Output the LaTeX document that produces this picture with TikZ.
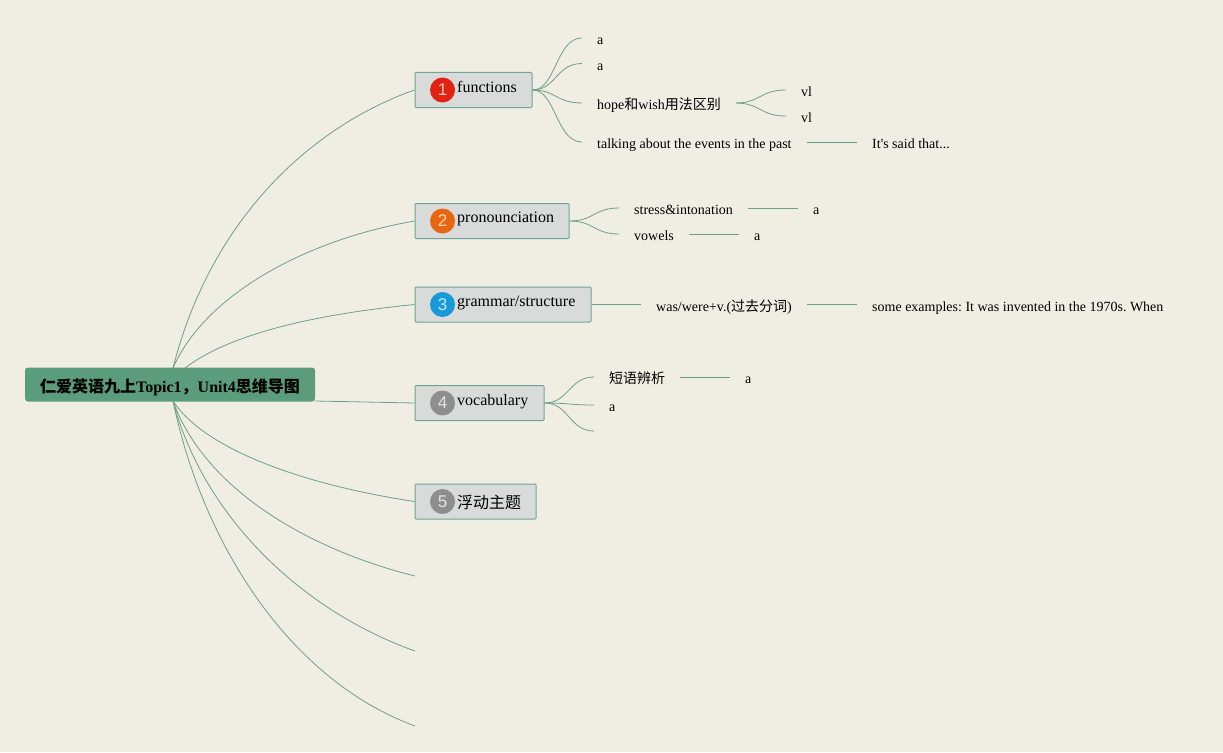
\documentclass[tikz,border=0pt]{standalone}
\usepackage{fontspec}
\setmainfont{Liberation Serif}[Ligatures=TeXOff]
\setsansfont{Liberation Sans}
\newfontfamily\cjk{Noto Sans CJK SC}
\frenchspacing
\definecolor{bgc}{HTML}{F0EDE3}
\definecolor{rootc}{HTML}{5A9C7B}
\definecolor{topicc}{HTML}{D9DADA}
\definecolor{borderc}{HTML}{6FA598}
\definecolor{linkc}{HTML}{6E9F8C}
\definecolor{redb}{HTML}{E22212}
\definecolor{orb}{HTML}{E8660F}
\definecolor{blb}{HTML}{189AD8}
\definecolor{grb}{HTML}{8E8E8E}
\tikzset{
 x=1pt,y=-1pt,
 link/.style={draw=linkc,line width=0.8pt},
 rootbox/.style={fill=rootc,draw=none,rounded corners=3pt,inner sep=0pt,minimum width=290pt,minimum height=34pt,font=\fontsize{16}{20}\selectfont\bfseries},
 topicbox/.style={fill=topicc,draw=borderc,line width=1pt,rounded corners=1pt,inner sep=0pt,minimum height=35pt},
 topictext/.style={anchor=base west,inner sep=0pt,font=\fontsize{16}{19}\selectfont},
 badge/.style={circle,inner sep=0pt,minimum size=25pt,text=white,text opacity=0.75,font=\sffamily\fontsize{17}{20}\selectfont},
 leaf/.style={anchor=base west,inner sep=0pt,font=\fontsize{14}{17}\selectfont},
 cjkleaf/.style={anchor=base west,inner sep=0pt,font=\fontsize{14}{17}\selectfont},
}
\begin{document}
\begin{tikzpicture}
\useasboundingbox[fill=bgc] (0,0) rectangle (1223,752);
% topics
\node[rootbox] (root) at (170,384.5) {\rule{0pt}{19pt}{\cjk\bfseries 仁爱英语九上{\rmfamily\bfseries Topic1}，{\rmfamily\bfseries Unit4}思维导图}};
\node[topicbox,minimum width=117pt] (t1) at (473.5,90) {};
\node[topicbox,minimum width=154pt] (t2) at (492,221) {};
\node[topicbox,minimum width=176pt] (t3) at (503,304.5) {};
\node[topicbox,minimum width=129pt] (t4) at (479.5,403) {};
\node[topicbox,minimum width=121pt] (t5) at (475.5,501.5) {};
\node[badge,fill=redb] (b1) at (442.5,90) {1};
\node[badge,fill=orb] (b2) at (442.5,221) {2};
\node[badge,fill=blb] (b3) at (442.5,304.5) {3};
\node[badge,fill=grb] (b4) at (442.5,403) {4};
\node[badge,fill=grb] (b5) at (442.5,501.5) {5};
\node[topictext] (n1) at (457,92.5) {functions};
\node[topictext] (n2) at (457,222) {pronounciation};
\node[topictext] (n3) at (457,306) {grammar/structure};
\node[topictext] (n4) at (457,405) {vocabulary};
\node[topictext] (n5) at (457,508) {\cjk 浮动主题};
% free ends
\coordinate (ra) at (173,368);
\coordinate (rb) at (185,368);
\coordinate (rc) at (173,401);
\coordinate (rd) at (315,401);
\coordinate (e6) at (415,576);
\coordinate (e7) at (415,651);
\coordinate (e8) at (415,726);
\draw[link] (ra) .. controls (212,215) and (315,125) .. (t1.west);
\draw[link] (ra) .. controls (205,295) and (305,240) .. (t2.west);
\draw[link] (rb) .. controls (235,330) and (330,313) .. (t3.west);
\draw[link] (rd) -- (t4.west);
\draw[link] (rc) .. controls (205,450) and (305,485) .. (t5.west);
\draw[link] (rc) .. controls (205,490) and (310,550) .. (e6);
\draw[link] (rc) .. controls (203,515) and (300,610) .. (e7);
\draw[link] (rc) .. controls (203,545) and (290,680) .. (e8);
% leaves of topic 1
\node[leaf] (a1) at (597,45) {a};
\node[leaf] (a2) at (597,70.5) {a};
\node[cjkleaf] (a3) at (597,109) {hope{\cjk 和}wish{\cjk 用法区别}};
\node[leaf] (a4) at (597,148) {talking about the events in the past};
\node[leaf] (a5) at (801,96) {vl};
\node[leaf] (a6) at (801,122) {vl};
\node[leaf] (a7) at (872,148) {It's said that...};
\coordinate (c1) at (582,38);
\coordinate (c2) at (582,63.5);
\coordinate (c3) at (582,103);
\coordinate (c4) at (582,142);
\coordinate (c5) at (736,103);
\coordinate (c6) at (786,90);
\coordinate (c7) at (786,116);
\coordinate (c8) at (807,142);
\coordinate (c9) at (857,142);
\draw[link] (t1.east) .. controls (556,90) and (556,38) .. (c1);
\draw[link] (t1.east) .. controls (556,90) and (556,63.5) .. (c2);
\draw[link] (t1.east) .. controls (556,90) and (556,103) .. (c3);
\draw[link] (t1.east) .. controls (556,90) and (556,142) .. (c4);
\draw[link] (c5) .. controls (760,103) and (760,90) .. (c6);
\draw[link] (c5) .. controls (760,103) and (760,116) .. (c7);
\draw[link] (c8) -- (c9);
% leaves of topic 2
\node[leaf] (p1) at (634,214) {stress\&intonation};
\node[leaf] (p2) at (634,240) {vowels};
\node[leaf] (p3) at (813,214) {a};
\node[leaf] (p4) at (754,240) {a};
\coordinate (d1) at (619,208);
\coordinate (d2) at (619,234);
\coordinate (d3) at (748,208);
\coordinate (d4) at (798,208);
\coordinate (d5) at (689,234);
\coordinate (d6) at (739,234);
\draw[link] (t2.east) .. controls (594,221) and (594,208) .. (d1);
\draw[link] (t2.east) .. controls (594,221) and (594,234) .. (d2);
\draw[link] (d3) -- (d4);
\draw[link] (d5) -- (d6);
% leaves of topic 3
\node[leaf] (g1) at (656,311) {was/were+v.({\cjk 过去分词})};
\node[leaf] (g2) at (872,311) {some examples: It was invented in the 1970s. When};
\coordinate (f1) at (641,304.5);
\coordinate (f2) at (807,304.5);
\coordinate (f3) at (857,304.5);
\draw[link] (t3.east) -- (f1);
\draw[link] (f2) -- (f3);
% leaves of topic 4
\node[leaf] (v1) at (609,383) {\cjk 短语辨析};
\node[leaf] (v2) at (609,411) {a};
\node[leaf] (v3) at (745,383) {a};
\coordinate (h1) at (594,377);
\coordinate (h2) at (594,405);
\coordinate (h3) at (594,431);
\coordinate (h4) at (680,377);
\coordinate (h5) at (730,377);
\draw[link] (t4.east) .. controls (569,403) and (569,377) .. (h1);
\draw[link] (t4.east) .. controls (569,403) and (569,405) .. (h2);
\draw[link] (t4.east) .. controls (569,403) and (569,431) .. (h3);
\draw[link] (h4) -- (h5);
\end{tikzpicture}
\end{document}
